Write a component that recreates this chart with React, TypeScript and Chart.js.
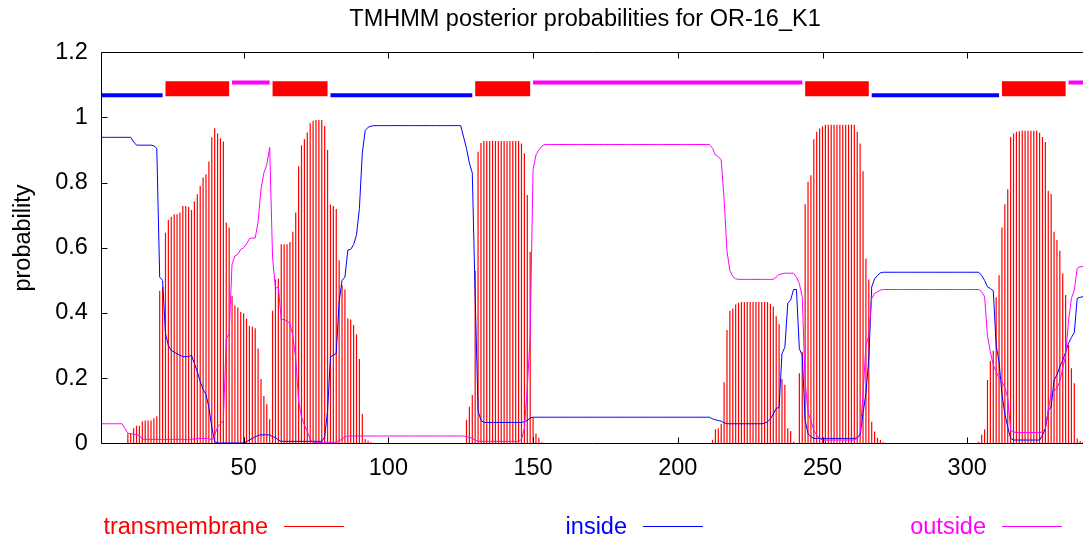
import React, { useEffect, useRef } from "react";
import { Chart, registerables } from "chart.js";

Chart.register(...registerables);

const TITLE = "TMHMM posterior probabilities for OR-16_K1";
const Y_LABEL = "probability";

// per-residue posterior probabilities (residues 1..340)
const TRANSMEMBRANE = [
  0, 0, 0, 0, 0, 0, 0, 0, 0, 0.03,
  0.03, 0.046, 0.054, 0.054, 0.068, 0.07, 0.07, 0.07, 0.077, 0.083,
  0.468, 0.48, 0.646, 0.685, 0.695, 0.703, 0.703, 0.708, 0.728, 0.728,
  0.726, 0.716, 0.743, 0.764, 0.79, 0.816, 0.826, 0.865, 0.939, 0.967,
  0.951, 0.936, 0.926, 0.678, 0.662, 0.452, 0.423, 0.417, 0.403, 0.399,
  0.383, 0.36, 0.358, 0.353, 0.291, 0.197, 0.145, 0.12, 0.074, 0.407,
  0.503, 0.505, 0.611, 0.611, 0.611, 0.618, 0.649, 0.708, 0.85, 0.915,
  0.934, 0.954, 0.982, 0.99, 0.992, 0.992, 0.992, 0.974, 0.9, 0.733,
  0.728, 0.719, 0.562, 0.486, 0.472, 0.383, 0.38, 0.363, 0.335, 0.259,
  0.09, 0.013, 0.008, 0.003, 0, 0, 0, 0, 0, 0,
  0, 0, 0, 0, 0, 0, 0, 0, 0, 0,
  0, 0, 0, 0, 0, 0, 0, 0, 0, 0,
  0, 0, 0, 0, 0, 0, 0.072, 0.112, 0.148, 0.529,
  0.895, 0.922, 0.928, 0.928, 0.928, 0.928, 0.928, 0.928, 0.928, 0.928,
  0.928, 0.928, 0.928, 0.928, 0.928, 0.92, 0.89, 0.762, 0.588, 0.08,
  0.03, 0.017, 0.003, 0, 0, 0, 0, 0, 0, 0,
  0, 0, 0, 0, 0, 0, 0, 0, 0, 0,
  0, 0, 0, 0, 0, 0, 0, 0, 0, 0,
  0, 0, 0, 0, 0, 0, 0, 0, 0, 0,
  0, 0, 0, 0, 0, 0, 0, 0, 0, 0,
  0, 0, 0, 0, 0, 0, 0, 0, 0, 0,
  0, 0.01, 0.043, 0.046, 0.06, 0.187, 0.348, 0.407, 0.414, 0.426,
  0.431, 0.434, 0.434, 0.434, 0.434, 0.434, 0.434, 0.434, 0.434, 0.434,
  0.434, 0.428, 0.42, 0.39, 0.365, 0.197, 0.18, 0.046, 0.038, 0.005,
  0, 0.215, 0.281, 0.734, 0.803, 0.823, 0.933, 0.956, 0.966, 0.973,
  0.978, 0.978, 0.978, 0.978, 0.978, 0.978, 0.978, 0.978, 0.978, 0.978,
  0.978, 0.956, 0.92, 0.835, 0.567, 0.503, 0.066, 0.036, 0.017, 0.01,
  0.003, 0, 0, 0, 0, 0, 0, 0, 0, 0,
  0, 0, 0, 0, 0, 0, 0, 0, 0, 0,
  0, 0, 0, 0, 0, 0, 0, 0, 0, 0,
  0, 0, 0, 0.005, 0.026, 0.043, 0.194, 0.253, 0.284, 0.448,
  0.516, 0.662, 0.734, 0.78, 0.94, 0.951, 0.956, 0.958, 0.959, 0.959,
  0.959, 0.959, 0.959, 0.959, 0.953, 0.94, 0.925, 0.775, 0.765, 0.649,
  0.624, 0.591, 0.521, 0.455, 0.302, 0.23, 0.184, 0.015, 0.007, 0.005,
];

const INSIDE = [
  0.939, 0.939, 0.939, 0.939, 0.939, 0.939, 0.939, 0.939, 0.939, 0.939,
  0.939, 0.925, 0.915, 0.915, 0.915, 0.915, 0.915, 0.915, 0.913, 0.905,
  0.51, 0.5, 0.337, 0.3, 0.285, 0.28, 0.275, 0.27, 0.266, 0.266,
  0.266, 0.27, 0.245, 0.22, 0.19, 0.165, 0.15, 0.11, 0.05, 0.005,
  0.001, 0.001, 0.001, 0.001, 0.001, 0.001, 0.001, 0.001, 0.001, 0.001,
  0.005, 0.01, 0.015, 0.02, 0.024, 0.026, 0.026, 0.026, 0.026, 0.02,
  0.018, 0.01, 0.006, 0.006, 0.006, 0.006, 0.006, 0.006, 0.006, 0.006,
  0.006, 0.006, 0.006, 0.006, 0.006, 0.006, 0.006, 0.02, 0.1, 0.266,
  0.27, 0.276, 0.435, 0.5, 0.51, 0.593, 0.595, 0.61, 0.64, 0.72,
  0.89, 0.96, 0.97, 0.973, 0.975, 0.975, 0.975, 0.975, 0.975, 0.975,
  0.975, 0.975, 0.975, 0.975, 0.975, 0.975, 0.975, 0.975, 0.975, 0.975,
  0.975, 0.975, 0.975, 0.975, 0.975, 0.975, 0.975, 0.975, 0.975, 0.975,
  0.975, 0.975, 0.975, 0.975, 0.975, 0.94, 0.905, 0.86, 0.83, 0.45,
  0.1, 0.07, 0.064, 0.064, 0.064, 0.064, 0.064, 0.064, 0.064, 0.064,
  0.064, 0.064, 0.064, 0.064, 0.064, 0.064, 0.066, 0.07, 0.078, 0.08,
  0.08, 0.08, 0.08, 0.08, 0.08, 0.08, 0.08, 0.08, 0.08, 0.08,
  0.08, 0.08, 0.08, 0.08, 0.08, 0.08, 0.08, 0.08, 0.08, 0.08,
  0.08, 0.08, 0.08, 0.08, 0.08, 0.08, 0.08, 0.08, 0.08, 0.08,
  0.08, 0.08, 0.08, 0.08, 0.08, 0.08, 0.08, 0.08, 0.08, 0.08,
  0.08, 0.08, 0.08, 0.08, 0.08, 0.08, 0.08, 0.08, 0.08, 0.08,
  0.08, 0.08, 0.08, 0.08, 0.08, 0.08, 0.08, 0.08, 0.08, 0.08,
  0.08, 0.075, 0.072, 0.07, 0.068, 0.063, 0.06, 0.06, 0.06, 0.06,
  0.06, 0.06, 0.06, 0.06, 0.06, 0.06, 0.06, 0.06, 0.06, 0.062,
  0.066, 0.075, 0.09, 0.107, 0.11, 0.275, 0.295, 0.43, 0.44, 0.472,
  0.472, 0.29, 0.27, 0.07, 0.03, 0.02, 0.015, 0.015, 0.015, 0.015,
  0.015, 0.015, 0.015, 0.015, 0.015, 0.015, 0.015, 0.015, 0.015, 0.015,
  0.015, 0.017, 0.025, 0.092, 0.153, 0.26, 0.48, 0.505, 0.515, 0.523,
  0.525, 0.525, 0.525, 0.525, 0.525, 0.525, 0.525, 0.525, 0.525, 0.525,
  0.525, 0.525, 0.525, 0.525, 0.525, 0.525, 0.525, 0.525, 0.525, 0.525,
  0.525, 0.525, 0.525, 0.525, 0.525, 0.525, 0.525, 0.525, 0.525, 0.525,
  0.525, 0.525, 0.525, 0.525, 0.515, 0.5, 0.48, 0.475, 0.468, 0.3,
  0.25, 0.15, 0.09, 0.05, 0.015, 0.01, 0.01, 0.01, 0.01, 0.01,
  0.01, 0.01, 0.01, 0.01, 0.01, 0.025, 0.045, 0.1, 0.112, 0.194,
  0.21, 0.235, 0.255, 0.28, 0.307, 0.325, 0.34, 0.445, 0.448, 0.45,
];

const OUTSIDE = [
  0.06, 0.06, 0.06, 0.06, 0.06, 0.06, 0.06, 0.06, 0.045, 0.031,
  0.03, 0.028, 0.026, 0.024, 0.013, 0.012, 0.012, 0.012, 0.012, 0.012,
  0.012, 0.012, 0.012, 0.012, 0.012, 0.012, 0.012, 0.012, 0.012, 0.012,
  0.01, 0.014, 0.012, 0.015, 0.015, 0.015, 0.015, 0.015, 0.01, 0.025,
  0.05, 0.06, 0.07, 0.32, 0.337, 0.55, 0.575, 0.58, 0.595, 0.6,
  0.612, 0.628, 0.63, 0.63, 0.68, 0.78, 0.83, 0.855, 0.908, 0.57,
  0.475, 0.48, 0.38, 0.38, 0.375, 0.368, 0.33, 0.26, 0.13, 0.08,
  0.056, 0.036, 0.012, 0.003, 0.003, 0.003, 0.003, 0.003, 0.003, 0.003,
  0.003, 0.004, 0.008, 0.012, 0.02, 0.0225, 0.0225, 0.0225, 0.0225, 0.0225,
  0.0225, 0.0225, 0.0225, 0.0225, 0.0225, 0.0225, 0.0225, 0.0225, 0.0225, 0.0225,
  0.0225, 0.0225, 0.0225, 0.0225, 0.0225, 0.0225, 0.0225, 0.0225, 0.0225, 0.0225,
  0.0225, 0.0225, 0.0225, 0.0225, 0.0225, 0.0225, 0.0225, 0.0225, 0.0225, 0.0225,
  0.0225, 0.0225, 0.0225, 0.0225, 0.0225, 0.0225, 0.02, 0.018, 0.015, 0.01,
  0.006, 0.006, 0.006, 0.006, 0.006, 0.006, 0.006, 0.006, 0.006, 0.006,
  0.006, 0.006, 0.006, 0.006, 0.006, 0.012, 0.045, 0.17, 0.33, 0.84,
  0.885, 0.9, 0.912, 0.917, 0.917, 0.917, 0.917, 0.917, 0.917, 0.917,
  0.917, 0.917, 0.917, 0.917, 0.917, 0.917, 0.917, 0.917, 0.917, 0.917,
  0.917, 0.917, 0.917, 0.917, 0.917, 0.917, 0.917, 0.917, 0.917, 0.917,
  0.917, 0.917, 0.917, 0.917, 0.917, 0.917, 0.917, 0.917, 0.917, 0.917,
  0.917, 0.917, 0.917, 0.917, 0.917, 0.917, 0.917, 0.917, 0.917, 0.917,
  0.917, 0.917, 0.917, 0.917, 0.917, 0.917, 0.917, 0.917, 0.917, 0.917,
  0.917, 0.905, 0.885, 0.88, 0.87, 0.75, 0.59, 0.53, 0.512, 0.505,
  0.503, 0.503, 0.503, 0.503, 0.503, 0.503, 0.503, 0.503, 0.503, 0.503,
  0.503, 0.503, 0.503, 0.51, 0.518, 0.52, 0.522, 0.522, 0.522, 0.522,
  0.51, 0.49, 0.45, 0.19, 0.095, 0.07, 0.04, 0.025, 0.015, 0.01,
  0.01, 0.01, 0.01, 0.01, 0.01, 0.01, 0.01, 0.01, 0.01, 0.01,
  0.01, 0.015, 0.03, 0.15, 0.3, 0.33, 0.445, 0.46, 0.465, 0.47,
  0.472, 0.472, 0.472, 0.472, 0.472, 0.472, 0.472, 0.472, 0.472, 0.472,
  0.472, 0.472, 0.472, 0.472, 0.472, 0.472, 0.472, 0.472, 0.472, 0.472,
  0.472, 0.472, 0.472, 0.472, 0.472, 0.472, 0.472, 0.472, 0.472, 0.472,
  0.472, 0.472, 0.472, 0.472, 0.465, 0.45, 0.33, 0.28, 0.24, 0.22,
  0.2, 0.19, 0.17, 0.14, 0.04, 0.035, 0.033, 0.033, 0.033, 0.033,
  0.033, 0.033, 0.033, 0.033, 0.033, 0.035, 0.045, 0.1, 0.155, 0.16,
  0.17, 0.19, 0.23, 0.27, 0.375, 0.445, 0.47, 0.537, 0.542, 0.542,
];

// predicted topology segments [first residue, last residue]
const TOPO_INSIDE = [[1, 22], [80, 129], [267, 311]];
const TOPO_TM = [[23, 45], [60, 79], [130, 149], [244, 266], [312, 334]];
const TOPO_OUTSIDE = [[46, 59], [150, 243], [335, 340]];

const X_TICKS = [50, 100, 150, 200, 250, 300];
const X_TICK_LABELS = ["50", "100", "150", "200", "250", "300"];
const Y_TICKS = [0, 0.2, 0.4, 0.6, 0.8, 1, 1.2];
const Y_TICK_LABELS = ["0", "0.2", "0.4", "0.6", "0.8", "1", "1.2"];

const LEGEND_LABELS = ["transmembrane", "inside", "outside"];
const RED = "#ff0000";
const BLUE = "#0000ff";
const MAGENTA = "#ff00ff";
const LEGEND_COLORS = [RED, BLUE, MAGENTA];

const FONT_FAMILY = "'Liberation Sans', Arial, Helvetica, sans-serif";
const FONT_SIZE = 23.5;
const W = 1083;
const H = 539;

const RESIDUES = TRANSMEMBRANE.map((_, i) => i + 1);

function topoData(segments: number[][], level: number) {
  const pts: { x: number; y: number | null }[] = [];
  segments.forEach(([a, b]) => {
    pts.push({ x: a, y: level });
    pts.push({ x: b, y: level });
    pts.push({ x: b, y: null });
  });
  return pts;
}

const decorPlugin = {
  id: "decor",
  afterDraw(chart: any) {
    const { ctx, chartArea } = chart;
    const { left, right, top, bottom } = chartArea;
    const xs = chart.scales.x;
    const ys = chart.scales.y;
    ctx.save();
    // frame
    ctx.strokeStyle = "#000";
    ctx.lineWidth = 1;
    const L = Math.floor(left) + 0.5;
    const T = Math.floor(top) + 0.5;
    const B = Math.floor(bottom) + 0.5;
    ctx.beginPath();
    ctx.moveTo(right + 2, T);
    ctx.lineTo(L, T);
    ctx.lineTo(L, B);
    ctx.lineTo(right + 2, B);
    ctx.stroke();
    // inward ticks
    const tl = 6;
    ctx.beginPath();
    X_TICKS.forEach((v) => {
      const px = Math.round(xs.getPixelForValue(v)) + 0.5;
      ctx.moveTo(px, B);
      ctx.lineTo(px, B - tl);
      ctx.moveTo(px, T);
      ctx.lineTo(px, T + tl);
    });
    Y_TICKS.forEach((v) => {
      const py = Math.round(ys.getPixelForValue(v)) + 0.5;
      ctx.moveTo(L, py);
      ctx.lineTo(L + tl, py);
    });
    ctx.stroke();

    // title
    ctx.fillStyle = "#000";
    ctx.font = `${FONT_SIZE}px ${FONT_FAMILY}`;
    ctx.textAlign = "center";
    ctx.textBaseline = "alphabetic";
    ctx.fillText(TITLE, 585, 26);

    // y label
    ctx.save();
    ctx.translate(30, 238);
    ctx.rotate(-Math.PI / 2);
    ctx.textAlign = "center";
    ctx.textBaseline = "alphabetic";
    ctx.fillText(Y_LABEL, 0, 0);
    ctx.restore();

    // legend
    const textRight = [268, 627, 986];
    const lineSpans = [[284, 344], [643, 703], [1002, 1062]];
    LEGEND_LABELS.forEach((lab, i) => {
      ctx.fillStyle = LEGEND_COLORS[i];
      ctx.strokeStyle = LEGEND_COLORS[i];
      ctx.textAlign = "right";
      ctx.fillText(lab, textRight[i], 534);
      ctx.beginPath();
      ctx.moveTo(lineSpans[i][0], 526.5);
      ctx.lineTo(lineSpans[i][1], 526.5);
      ctx.stroke();
    });
    ctx.restore();
  },
};

export default function App() {
  const ref = useRef<HTMLCanvasElement>(null);
  useEffect(() => {
    const canvas = ref.current;
    if (!canvas) return;
    const tickFont = { family: FONT_FAMILY, size: FONT_SIZE };
    const chart = new Chart(canvas, {
      type: "bar",
      data: {
        datasets: [
          {
            type: "bar",
            label: "transmembrane",
            data: RESIDUES.map((r, i) => ({ x: r, y: TRANSMEMBRANE[i] })),
            backgroundColor: RED,
            borderWidth: 0,
            barThickness: 1.2,
            inflateAmount: 0,
            order: 3,
          } as any,
          {
            type: "line",
            label: "inside",
            data: RESIDUES.map((r, i) => ({ x: r, y: INSIDE[i] })),
            borderColor: BLUE,
            borderWidth: 1,
            pointRadius: 0,
            tension: 0,
            fill: false,
            order: 2,
          },
          {
            type: "line",
            label: "outside",
            data: RESIDUES.map((r, i) => ({ x: r, y: OUTSIDE[i] })),
            borderColor: MAGENTA,
            borderWidth: 1,
            pointRadius: 0,
            tension: 0,
            fill: false,
            order: 1,
          },
          {
            type: "line",
            label: "topo-inside",
            data: topoData(TOPO_INSIDE, 1.068),
            borderColor: BLUE,
            borderWidth: 4,
            borderCapStyle: "butt",
            pointRadius: 0,
            spanGaps: false,
            order: 0,
          },
          {
            type: "line",
            label: "topo-tm",
            data: topoData(TOPO_TM, 1.088),
            borderColor: RED,
            borderWidth: 15,
            borderCapStyle: "butt",
            pointRadius: 0,
            spanGaps: false,
            order: 0,
          },
          {
            type: "line",
            label: "topo-outside",
            data: topoData(TOPO_OUTSIDE, 1.107),
            borderColor: MAGENTA,
            borderWidth: 4,
            borderCapStyle: "butt",
            pointRadius: 0,
            spanGaps: false,
            order: 0,
          },
        ] as any,
      },
      options: {
        animation: false,
        responsive: false,
        maintainAspectRatio: false,
        layout: { padding: { left: 0, right: 0, top: 52.3, bottom: 0 } },
        plugins: {
          legend: { display: false },
          title: { display: false },
          tooltip: { enabled: false },
        },
        scales: {
          x: {
            type: "linear",
            min: 1,
            max: 340,
            offset: false,
            grid: { display: false, drawTicks: false },
            border: { display: false },
            afterBuildTicks: (s: any) => {
              s.ticks = X_TICKS.map((v) => ({ value: v }));
            },
            afterFit: (s: any) => {
              s.height = 95.7;
            },
            ticks: {
              color: "#000",
              font: tickFont,
              padding: 11,
              maxRotation: 0,
              autoSkip: false,
              callback: (v: any) => X_TICK_LABELS[X_TICKS.indexOf(Number(v))] ?? "",
            },
          },
          y: {
            min: 0,
            max: 1.2,
            grid: { display: false, drawTicks: false },
            border: { display: false },
            afterBuildTicks: (s: any) => {
              s.ticks = Y_TICKS.map((v) => ({ value: v }));
            },
            afterFit: (s: any) => {
              s.width = 101.8;
            },
            ticks: {
              color: "#000",
              font: tickFont,
              padding: 14,
              callback: (v: any) => {
                const idx = Y_TICKS.findIndex((t) => Math.abs(t - Number(v)) < 1e-6);
                return idx >= 0 ? Y_TICK_LABELS[idx] : "";
              },
            },
          },
        },
      } as any,
      plugins: [decorPlugin],
    });
    return () => chart.destroy();
  }, []);
  return (
    <div style={{ position: "fixed", left: 0, top: 0, width: W, height: H, background: "#fff" }}>
      <canvas ref={ref} width={W} height={H} style={{ display: "block", width: W, height: H }} />
    </div>
  );
}
